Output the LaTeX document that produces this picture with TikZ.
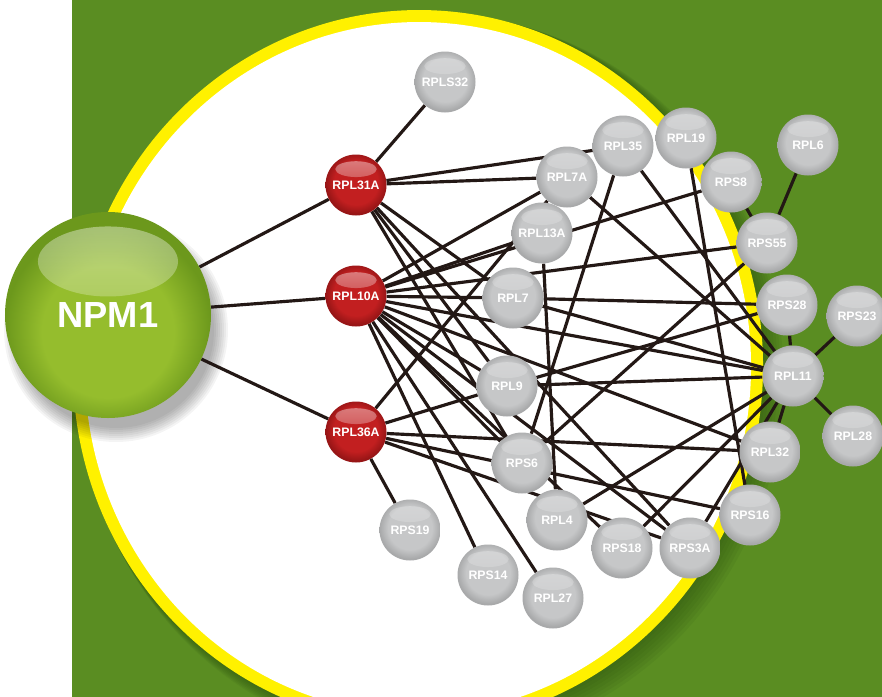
\documentclass[tikz,border=0pt]{standalone}
\usepackage{fontspec}
\setmainfont{Liberation Sans}
\usetikzlibrary{calc,fadings}
\definecolor{leaf}{HTML}{5A8D22}
\definecolor{leafdark}{HTML}{2F5510}
\definecolor{ring}{HTML}{FFF100}
\definecolor{linkc}{HTML}{231815}
\definecolor{hubc}{HTML}{95BD2D}
\definecolor{hubrim}{HTML}{6C981C}
\definecolor{redc}{HTML}{C21F20}
\definecolor{redrim}{HTML}{971516}
\definecolor{greyc}{HTML}{C6C7C8}
\definecolor{greyrim}{HTML}{A8A9AA}

\pgfdeclareradialshading{greyball}{\pgfpoint{0bp}{3bp}}{color(0bp)=(greyc); color(18bp)=(greyc); color(25bp)=(greyrim); color(50bp)=(greyrim)}
\pgfdeclareradialshading{redball}{\pgfpoint{0bp}{3bp}}{color(0bp)=(redc); color(18bp)=(redc); color(25bp)=(redrim); color(50bp)=(redrim)}
\pgfdeclareradialshading{hubball}{\pgfpoint{0bp}{-6bp}}{color(0bp)=(hubc); color(16bp)=(hubc); color(25bp)=(hubrim); color(50bp)=(hubrim)}
\tikzfading[name=glossfade, top color=transparent!30, bottom color=transparent!100]

\pgfdeclarelayer{backdrop}
\pgfdeclarelayer{links}
\pgfsetlayers{backdrop,links,main}

\tikzset{
  gloss/.style 2 args={path picture={
    \fill[white, opacity=#2, path fading=glossfade]
      let \p1=(path picture bounding box.north), \p2=(path picture bounding box.south),
          \n1={veclen(\x1-\x2,\y1-\y2)} in
      ($(\p1)!0.24!(\p2)$) ellipse [x radius=0.34*\n1, y radius=#1*\n1];}},
  prot/.style={circle, inner sep=0pt, minimum size=1.83cm, shading=greyball,
               text=white, font=\fontsize{10.5}{12}\selectfont\bfseries, gloss={0.13}{0.4}},
  core/.style={prot, shading=redball, gloss={0.13}{0.65}},
  hub/.style={circle, inner sep=0pt, minimum size=6.18cm, shading=hubball,
              text=white, font=\fontsize{31}{34}\selectfont\bfseries, gloss={0.17}{0.6}},
  link/.style={draw=linkc, line width=2.7pt},
}

\begin{document}
\begin{tikzpicture}[x=0.03cm, y=-0.03cm]
  \useasboundingbox (0,0) rectangle (882,697);

  % hub and the three seed proteins
  \node[hub]  (NPM1)   at (108,315) {NPM1};
  \node[core] (RPL31A) at (356,185) {RPL31A};
  \node[core] (RPL10A) at (356,296) {RPL10A};
  \node[core] (RPL36A) at (356,432) {RPL36A};

  % ribosomal partners
  \foreach \name/\x/\y in {RPLS32/445/82, RPL7A/567/177, RPL13A/542/233, RPL7/513/298,
      RPL9/507/386, RPS6/522/463, RPL4/557/520, RPS19/410/530, RPS14/488/575,
      RPL27/553/598, RPL35/623/146, RPL19/686/138, RPS8/731/182, RPL6/808/145,
      RPS55/767/243, RPS28/787/305, RPS23/857/316, RPL11/793/376, RPL28/853/436,
      RPL32/770/452, RPS16/750/515, RPS3A/690/548, RPS18/622/548}
    \node[prot] (\name) at (\x,\y) {\name};

  % interactions, kept under the balls
  \begin{pgfonlayer}{links}
    \foreach \a/\b in {NPM1/RPL31A, NPM1/RPL10A, NPM1/RPL36A,
        RPL31A/RPLS32, RPL31A/RPL7A, RPL31A/RPL35, RPL31A/RPL7, RPL31A/RPL9,
        RPL31A/RPS6, RPL31A/RPS3A,
        RPL10A/RPL7A, RPL10A/RPL13A, RPL10A/RPS8, RPL10A/RPS55, RPL10A/RPL7,
        RPL10A/RPL9, RPL10A/RPS6, RPL10A/RPS18, RPL10A/RPS3A, RPL10A/RPL32,
        RPL10A/RPL11, RPL10A/RPS14, RPL10A/RPL27,
        RPL36A/RPL7A, RPL36A/RPL9, RPL36A/RPL32, RPL36A/RPS16, RPL36A/RPS3A,
        RPL36A/RPS19,
        RPL7A/RPL11, RPL35/RPS6, RPL35/RPL11, RPL19/RPS16, RPL13A/RPL4,
        RPL7/RPS28, RPL7/RPL11, RPL9/RPL11, RPL9/RPS28, RPS6/RPS55,
        RPL4/RPL11, RPS18/RPL11, RPS3A/RPL11, RPS8/RPS55, RPL6/RPS55,
        RPS28/RPL11, RPS23/RPL11, RPL28/RPL11, RPL11/RPL32}
      \draw[link] (\a) -- (\b);
  \end{pgfonlayer}

  % green panel, soft shadow, yellow-rimmed disc
  \begin{pgfonlayer}{backdrop}
    \fill[white] (0,0) rectangle (882,697);
    \fill[leaf] (72,0) rectangle (882,697);
    \begin{scope}[rotate around={-3:(418,368)}]
      \foreach \k in {1,...,7}
        \fill[leafdark, opacity=0.1] (418+2*\k,368+1.5*\k) ellipse [x radius=345+\k, y radius=358+\k];
      \fill[ring] (418,368) ellipse [x radius=345, y radius=358];
      \fill[white] (418,368) ellipse [x radius=333, y radius=346];
    \end{scope}
    \foreach \k in {0,...,7}
      \fill[black, opacity=0.045] (116,330) circle [radius=98+2*\k];
  \end{pgfonlayer}
\end{tikzpicture}
\end{document}
